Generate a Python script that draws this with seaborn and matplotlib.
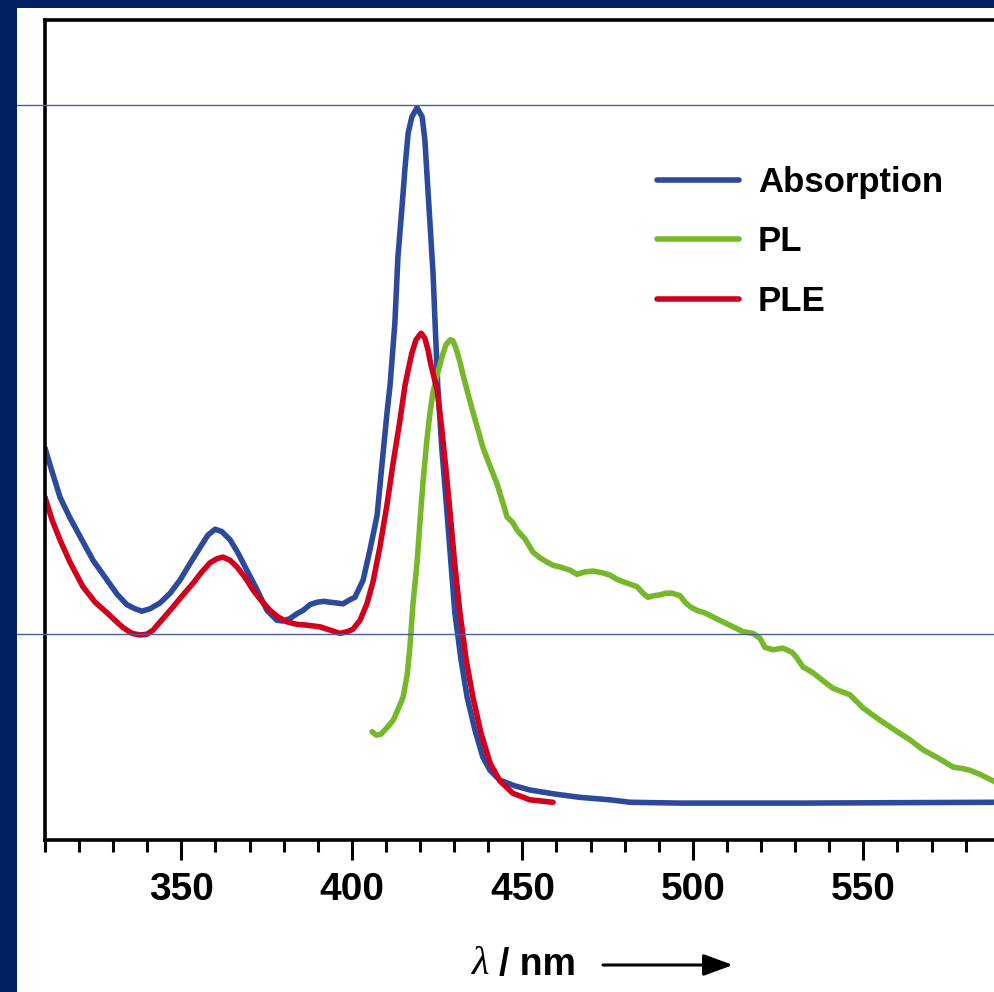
import matplotlib
matplotlib.use("Agg")
import matplotlib.pyplot as plt
from matplotlib import font_manager
from matplotlib.lines import Line2D
from matplotlib.patches import Rectangle
import pandas as pd
import seaborn as sns

# ---- spectra (wavelength in nm, normalised intensity in a.u.) ----
abs_nm = [310.0, 312.1, 314.4, 317.3, 320.3, 324.1, 328.2, 331.1, 334.0, 336.4,
          338.4, 340.8, 343.7, 346.7, 349.6, 352.5, 355.5, 357.8, 359.9, 361.9,
          364.3, 366.6, 369.2, 372.2, 375.1, 378.0, 379.8, 381.8, 383.9, 385.7,
          387.7, 389.8, 391.8, 393.6, 395.6, 397.4, 399.4, 400.9, 403.3, 405.3,
          407.4, 408.8, 410.3, 411.2, 412.6, 413.5, 414.7, 415.6, 416.5, 417.6,
          419.1, 420.6, 421.4, 422.0, 422.9, 423.8, 424.4, 425.2, 426.4, 427.9,
          429.1, 430.2, 432.0, 433.8, 436.1, 438.4, 440.5, 443.4, 447.8, 452.2,
          459.6, 466.9, 475.7, 481.6, 496.2, 531.4, 588.6]
abs_int = [47.8, 44.9, 41.8, 39.3, 37.0, 34.1, 31.7, 30.0, 28.7, 28.2,
           27.9, 28.2, 28.9, 30.1, 31.7, 33.7, 35.7, 37.2, 37.9, 37.6,
           36.6, 35.0, 32.9, 30.5, 28.0, 26.8, 26.7, 27.0, 27.6, 28.0,
           28.7, 29.0, 29.1, 29.0, 28.9, 28.8, 29.3, 29.6, 31.7, 35.4,
           39.6, 45.7, 52.1, 55.5, 63.0, 71.1, 77.2, 82.1, 86.2, 88.2,
           89.3, 88.2, 85.4, 81.3, 75.2, 69.1, 63.0, 55.2, 47.6, 39.9,
           33.5, 27.7, 22.0, 17.4, 13.4, 10.1, 8.5, 7.3, 6.6, 6.1,
           5.6, 5.2, 4.9, 4.6, 4.5, 4.5, 4.6]

pl_nm = [405.9, 407.1, 408.5, 410.3, 412.1, 413.5, 415.0, 416.2, 417.0, 417.9,
         419.1, 420.0, 420.9, 422.0, 422.9, 423.8, 425.0, 426.4, 427.6, 428.8,
         429.6, 430.5, 431.7, 432.6, 434.0, 435.5, 437.0, 438.4, 440.5, 442.6,
         444.0, 445.5, 447.2, 448.4, 450.8, 453.1, 455.2, 457.2, 459.0, 461.0,
         464.0, 466.0, 468.4, 470.7, 473.3, 475.7, 477.7, 479.5, 481.6, 483.6,
         485.4, 486.8, 488.6, 490.4, 492.1, 493.9, 496.2, 497.7, 499.4, 501.2,
         503.5, 505.9, 508.8, 511.8, 514.7, 517.6, 519.7, 521.1, 523.5, 526.4,
         529.1, 530.5, 532.3, 535.2, 537.9, 541.1, 546.1, 549.9, 554.9, 560.7,
         563.7, 567.5, 571.9, 576.3, 579.2, 581.3, 584.2, 588.6]
pl_int = [13.2, 12.8, 12.9, 13.7, 14.6, 15.9, 17.4, 20.1, 23.5, 28.7,
          33.8, 39.0, 43.9, 48.8, 52.1, 54.6, 56.7, 58.9, 60.4, 61.0,
          60.9, 60.0, 58.3, 56.7, 54.5, 52.2, 50.0, 47.9, 45.6, 43.4,
          41.5, 39.4, 38.7, 37.8, 36.7, 35.1, 34.4, 33.9, 33.5, 33.3,
          32.9, 32.4, 32.7, 32.8, 32.6, 32.3, 31.8, 31.5, 31.2, 30.9,
          30.1, 29.6, 29.8, 29.9, 30.1, 30.1, 29.8, 29.0, 28.4, 28.0,
          27.7, 27.2, 26.6, 26.0, 25.4, 25.2, 24.6, 23.5, 23.2, 23.4,
          22.9, 22.2, 21.1, 20.4, 19.5, 18.5, 17.7, 16.1, 14.6, 13.0,
          12.2, 11.0, 10.0, 8.9, 8.7, 8.5, 8.0, 7.1]

ple_nm = [310.0, 312.1, 314.4, 317.3, 321.1, 324.7, 328.2, 330.5, 332.9, 335.5,
          337.9, 339.9, 341.7, 344.6, 347.5, 350.5, 353.4, 356.0, 358.4, 360.4,
          362.2, 364.3, 366.3, 368.7, 371.0, 373.6, 376.0, 378.3, 381.0, 383.9,
          386.8, 390.6, 393.6, 396.5, 398.6, 400.3, 402.4, 404.4, 406.2, 408.2,
          410.3, 412.1, 414.1, 415.6, 416.7, 417.6, 418.8, 420.3, 421.4, 422.3,
          423.2, 425.0, 426.4, 427.6, 428.8, 430.2, 431.7, 433.5, 435.5, 437.9,
          440.5, 443.4, 447.2, 452.2, 459.0]
ple_int = [41.8, 39.0, 36.6, 33.9, 30.9, 29.0, 27.7, 26.8, 25.9, 25.2,
           25.0, 25.1, 25.6, 27.0, 28.4, 29.9, 31.3, 32.7, 33.8, 34.3,
           34.5, 34.1, 33.3, 32.0, 30.5, 29.1, 28.0, 27.2, 26.6, 26.3,
           26.2, 26.0, 25.6, 25.2, 25.4, 25.7, 26.8, 28.8, 31.5, 35.7,
           40.9, 46.0, 51.2, 55.5, 57.7, 59.4, 61.0, 61.8, 61.2, 59.8,
           57.9, 54.9, 50.0, 45.1, 39.9, 33.5, 27.7, 22.0, 17.4, 13.0,
           9.4, 7.2, 5.7, 4.9, 4.6]

series_names = ["Absorption", "PL", "PLE"]
series_colors = ["#2c4a9b", "#77b82a", "#d2001c"]
major_ticks = [350, 400, 450, 500, 550]
minor_ticks = [310, 320, 330, 340, 360, 370, 380, 390, 410, 420, 430, 440,
               460, 470, 480, 490, 510, 520, 530, 540, 560, 570, 580]
x_label_symbol = "λ"
x_label_unit = "/ nm"

# ---- style ----
sns.set_theme(style="white")
installed = {f.name for f in font_manager.fontManager.ttflist}
narrow = "Liberation Sans Narrow" if "Liberation Sans Narrow" in installed else "Liberation Sans"
plt.rcParams["font.family"] = ["Liberation Sans", "DejaVu Sans"]
plt.rcParams["text.color"] = "black"

frames = []
for name, xs, ys in zip(series_names,
                        [abs_nm, pl_nm, ple_nm],
                        [abs_int, pl_int, ple_int]):
    frames.append(pd.DataFrame({"wavelength": xs, "intensity": ys, "spectrum": name}))
df = pd.concat(frames, ignore_index=True)

W, H = 995, 992
navy = "#00205f"
fig = plt.figure(figsize=(W / 100, H / 100), dpi=100, facecolor=navy)
fig.add_artist(Rectangle((17 / W, 0), 1 - 17 / W, 1 - 8 / H,
                         transform=fig.transFigure, facecolor="white",
                         edgecolor="none", zorder=-1))

ax = fig.add_axes([45 / W, 152 / H, 1 - 45 / W, 820 / H])
ax.set_facecolor("white")

line_w = 4.0
sns.lineplot(data=df, x="wavelength", y="intensity", hue="spectrum",
             hue_order=series_names, palette=series_colors,
             estimator=None, sort=False, linewidth=line_w,
             solid_capstyle="round", solid_joinstyle="round", ax=ax)

ax.set_xlim(310, 588.6)
ax.set_ylim(0, 100)
ax.set_yticks([])
ax.set_xticks(major_ticks)
ax.set_xticks(minor_ticks, minor=True)
ax.set_xlabel("")
ax.set_ylabel("")

for side in ["left", "top", "bottom"]:
    ax.spines[side].set_visible(True)
    ax.spines[side].set_color("black")
    ax.spines[side].set_linewidth(2.6)
ax.spines["right"].set_visible(False)

ax.tick_params(axis="x", which="major", direction="out", length=14.4,
               width=2.2, color="black", pad=9, bottom=True)
ax.tick_params(axis="x", which="minor", direction="out", length=8.4,
               width=2.2, color="black", bottom=True)
for lab in ax.get_xticklabels():
    lab.set_fontfamily([narrow, "DejaVu Sans"])
    lab.set_fontweight("bold")
    lab.set_fontsize(28)
    lab.set_color("black")

# legend without frame, large bold labels
handles, labels = ax.get_legend_handles_labels()
for h in handles:
    h.set_linewidth(line_w)
    h.set_solid_capstyle("round")
leg = ax.legend(handles, labels, loc="upper left",
                bbox_to_anchor=(657 / W, 1 - 166 / H), bbox_transform=fig.transFigure,
                frameon=False, borderpad=0, borderaxespad=0,
                handlelength=2.35, handletextpad=0.55, labelspacing=0.76,
                prop={"family": "Liberation Sans", "weight": "bold", "size": 25})
for t in leg.get_texts():
    t.set_color("black")

# x-axis caption with direction arrow
fig.text(472 / W, 1 - 965 / H, x_label_symbol, ha="left", va="center",
         fontsize=29, style="italic", family=["Liberation Serif", "DejaVu Serif"],
         color="black")
fig.text(499 / W, 1 - 965 / H, x_label_unit, ha="left", va="center",
         fontsize=27, fontweight="bold", family=[narrow, "DejaVu Sans"],
         color="black")
ax.annotate("", xy=(733, H - 965), xytext=(603, H - 965),
            xycoords="figure pixels", textcoords="figure pixels",
            arrowprops=dict(arrowstyle="-|>,head_length=0.9,head_width=0.33",
                            mutation_scale=20, lw=2.2, color="black",
                            shrinkA=0, shrinkB=0))

# thin horizontal rules across the panel
for y_px in (105, 634):
    fig.add_artist(Line2D([17 / W, 1], [1 - y_px / H] * 2,
                          transform=fig.transFigure, color="#4b5f99",
                          lw=1.0, zorder=5))

fig.savefig("out.png", dpi=100, facecolor=navy)
